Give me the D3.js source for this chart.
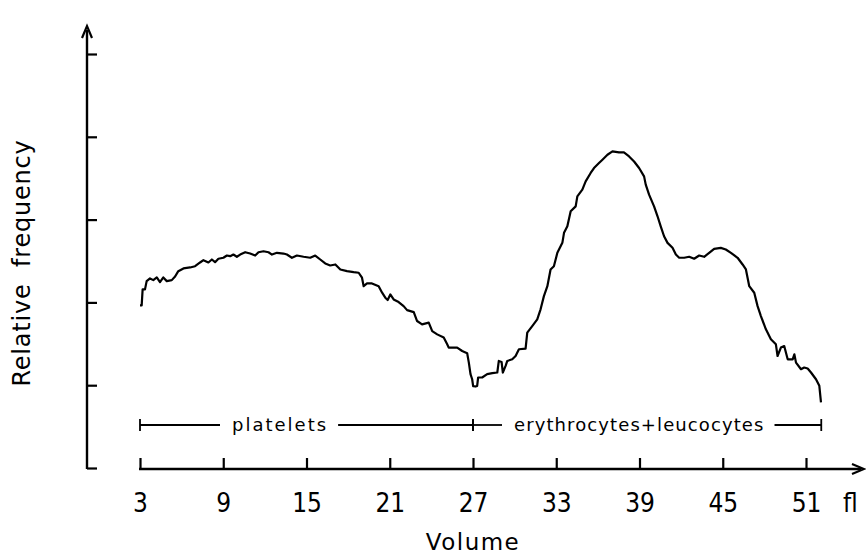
<!DOCTYPE html>
<html>
<head>
<meta charset="utf-8">
<script src="https://cdn.jsdelivr.net/npm/d3@7/dist/d3.min.js"></script>
<style>
  html, body { margin: 0; padding: 0; background: #fff; }
  svg { display: block; }
  text { fill: #000; }
</style>
</head>
<body>
<svg id="chart" width="866" height="558"></svg>
<script>
// ---- data ----
const volume = [
  3.00, 3.12, 3.19, 3.36, 3.48, 3.72, 3.96, 4.21, 4.44, 4.68, 4.93, 5.29, 5.53, 5.76, 6.13, 6.61, 6.97, 7.33, 7.57, 7.93,
  8.18, 8.41, 8.65, 9.01, 9.26, 9.50, 9.73, 9.98, 10.22, 10.58, 10.94, 11.30, 11.54, 11.90, 12.26, 12.51, 12.87, 13.34, 13.59, 13.95,
  14.31, 14.79, 15.27, 15.63, 15.99, 16.35, 16.71, 17.08, 17.44, 17.92, 18.40, 18.76, 19.00, 19.12, 19.36, 19.72, 20.20, 20.45, 20.68, 20.85,
  21.04, 21.28, 21.64, 22.00, 22.25, 22.73, 22.97, 23.33, 23.81, 24.06, 24.42, 24.89, 25.14, 25.25, 25.86, 26.22, 26.58, 26.70, 26.82, 26.94,
  27.01, 27.18, 27.30, 27.37, 27.66, 28.02, 28.39, 28.75, 28.86, 29.06, 29.15, 29.35, 29.47, 29.83, 30.07, 30.31, 30.79, 30.91, 31.27, 31.63,
  31.87, 32.11, 32.36, 32.59, 32.83, 33.08, 33.44, 33.56, 33.80, 34.04, 34.40, 34.52, 34.88, 35.12, 35.48, 35.72, 36.08, 36.33, 36.69, 37.05,
  37.52, 37.88, 38.25, 38.61, 38.97, 39.33, 39.45, 39.69, 40.05, 40.30, 40.53, 40.77, 41.02, 41.38, 41.62, 41.86, 42.22, 42.58, 42.94, 43.30,
  43.66, 44.02, 44.38, 44.86, 45.22, 45.59, 46.07, 46.43, 46.67, 46.91, 47.27, 47.51, 47.75, 48.11, 48.47, 48.83, 48.95, 49.19, 49.43, 49.68,
  50.04, 50.16, 50.28, 50.64, 50.87, 51.12, 51.36, 51.72, 51.96, 52.08
];
const frequency = [
  1.964, 1.964, 2.157, 2.157, 2.257, 2.289, 2.269, 2.301, 2.245, 2.301, 2.257, 2.269, 2.313, 2.377, 2.410, 2.422, 2.437, 2.482, 2.510, 2.482,
  2.518, 2.486, 2.527, 2.539, 2.566, 2.558, 2.578, 2.551, 2.578, 2.606, 2.590, 2.566, 2.606, 2.618, 2.606, 2.578, 2.599, 2.590, 2.578, 2.539,
  2.566, 2.551, 2.539, 2.566, 2.518, 2.470, 2.446, 2.458, 2.398, 2.377, 2.365, 2.358, 2.298, 2.196, 2.229, 2.229, 2.196, 2.117, 2.057, 2.028,
  2.096, 2.036, 2.004, 1.955, 1.907, 1.883, 1.775, 1.735, 1.755, 1.654, 1.614, 1.575, 1.494, 1.454, 1.454, 1.413, 1.386, 1.273, 1.133, 1.072,
  0.988, 0.984, 0.992, 1.093, 1.093, 1.133, 1.145, 1.153, 1.293, 1.281, 1.153, 1.233, 1.293, 1.313, 1.353, 1.434, 1.442, 1.635, 1.714, 1.795,
  1.916, 2.076, 2.196, 2.398, 2.437, 2.599, 2.719, 2.840, 2.919, 3.100, 3.160, 3.281, 3.361, 3.461, 3.563, 3.623, 3.683, 3.723, 3.783, 3.823,
  3.811, 3.811, 3.763, 3.702, 3.623, 3.522, 3.422, 3.301, 3.160, 3.040, 2.919, 2.799, 2.719, 2.659, 2.578, 2.539, 2.539, 2.551, 2.527, 2.566,
  2.551, 2.599, 2.647, 2.659, 2.639, 2.599, 2.539, 2.458, 2.398, 2.196, 2.117, 1.955, 1.835, 1.675, 1.554, 1.494, 1.353, 1.454, 1.473, 1.313,
  1.313, 1.373, 1.273, 1.193, 1.213, 1.201, 1.153, 1.072, 0.992, 0.792
];
const xTicks = [3, 9, 15, 21, 27, 33, 39, 45, 51];
const yTicks = [0, 1, 2, 3, 4, 5];
const regionLabels = ["platelets", "erythrocytes+leucocytes"];
const regionBounds = [[3, 27], [27, 52.1]];
const xUnit = "fl";
const xTitle = "Volume";
const yTitle = "Relative frequency";

// ---- layout ----
const svg = d3.select("#chart");
const axisY = 469;      // x-axis line
const axisX = 87;       // y-axis line
const x = d3.scaleLinear().domain([3, 51]).range([140, 806]);
const y = d3.scaleLinear().domain([0, 5]).range([468, 54]);
const ink = "#000";

// y axis
const gy = svg.append("g").attr("transform", `translate(${axisX},0)`)
  .call(d3.axisRight(y).tickValues(yTicks).tickSize(10).tickFormat(""));
gy.select(".domain").remove();
gy.selectAll(".tick line").attr("stroke", ink).attr("stroke-width", 2.2);
svg.append("line").attr("x1", axisX).attr("x2", axisX)
  .attr("y1", y(0) + 1).attr("y2", 30)
  .attr("stroke", ink).attr("stroke-width", 2.4);
svg.append("path")
  .attr("d", `M${axisX - 5},${38} L${axisX},${26} L${axisX + 5},${38}`)
  .attr("fill", "none").attr("stroke", ink).attr("stroke-width", 2.2);

// x axis
const gx = svg.append("g").attr("transform", `translate(0,${axisY})`)
  .call(d3.axisBottom(x).tickValues(xTicks).tickSizeInner(-11).tickSizeOuter(0).tickPadding(0));
gx.select(".domain").remove();
gx.selectAll(".tick line").attr("stroke", ink).attr("stroke-width", 2.2);
gx.selectAll(".tick text")
  .attr("y", 43).attr("dy", null)
  .attr("font-family", "'DejaVu Sans Condensed', 'DejaVu Sans', sans-serif")
  .attr("font-size", 26).attr("fill", ink);
svg.append("line").attr("x1", x(3) - 1).attr("x2", 861)
  .attr("y1", axisY).attr("y2", axisY)
  .attr("stroke", ink).attr("stroke-width", 2.4);
svg.append("path")
  .attr("d", `M${852},${axisY - 5} L${864},${axisY} L${852},${axisY + 5}`)
  .attr("fill", "none").attr("stroke", ink).attr("stroke-width", 2.2);

svg.append("text").text(xUnit)
  .attr("x", 843).attr("y", axisY + 43)
  .attr("font-family", "'DejaVu Sans Condensed', 'DejaVu Sans', sans-serif")
  .attr("font-size", 26);

svg.append("text").text(xTitle)
  .attr("x", x(27)).attr("y", 550)
  .attr("text-anchor", "middle")
  .attr("font-family", "'DejaVu Sans', sans-serif")
  .attr("font-size", 23).attr("letter-spacing", 1.5);

svg.append("text").text(yTitle)
  .attr("transform", `translate(30,263) rotate(-90)`)
  .attr("text-anchor", "middle")
  .attr("font-family", "'DejaVu Sans', sans-serif")
  .attr("font-size", 24).attr("letter-spacing", 0.8).attr("word-spacing", 8);

// region annotations
const annY = 425;
const textStartOffsets = [92, 41];   // px from region start to label start
const letterSp = [2, 1.1];
regionLabels.forEach((lab, i) => {
  const [a, b] = regionBounds[i];
  const xa = x(a), xb = x(b);
  const t = svg.append("text").text(lab)
    .attr("x", xa + textStartOffsets[i]).attr("y", annY + 6)
    .attr("font-family", "'DejaVu Sans', sans-serif")
    .attr("font-size", 18).attr("letter-spacing", letterSp[i]);
  const bb = t.node().getBBox();
  const g = svg.append("g").attr("stroke", ink).attr("stroke-width", 1.8);
  g.append("line").attr("x1", xa).attr("x2", bb.x - 12).attr("y1", annY).attr("y2", annY);
  g.append("line").attr("x1", bb.x + bb.width + 10).attr("x2", xb).attr("y1", annY).attr("y2", annY);
  g.append("line").attr("x1", xa).attr("x2", xa).attr("y1", annY - 6).attr("y2", annY + 6);
  g.append("line").attr("x1", xb).attr("x2", xb).attr("y1", annY - 6).attr("y2", annY + 6);
});

// curve
const pts = volume.map((v, i) => [v, frequency[i]]);
svg.append("path")
  .datum(pts)
  .attr("fill", "none").attr("stroke", ink).attr("stroke-width", 2.2)
  .attr("stroke-linejoin", "round")
  .attr("d", d3.line().x(d => x(d[0])).y(d => y(d[1])).curve(d3.curveLinear));
</script>
</body>
</html>
